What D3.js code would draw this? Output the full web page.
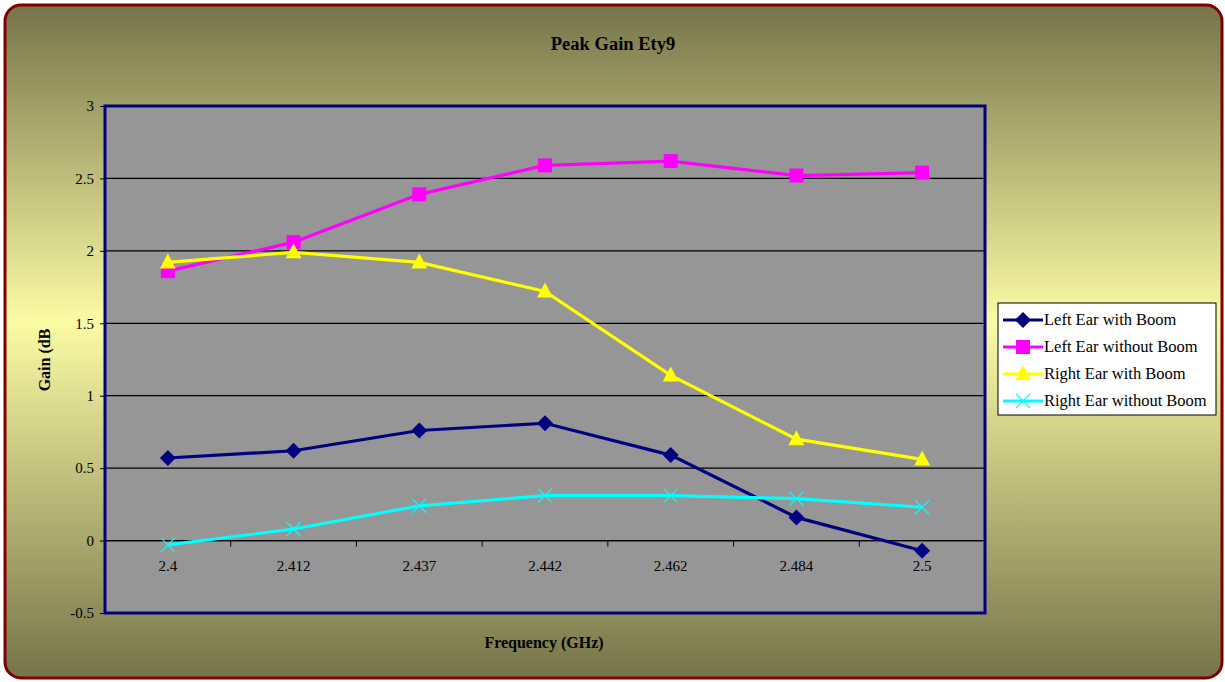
<!DOCTYPE html>
<html>
<head>
<meta charset="utf-8">
<script src="https://cdnjs.cloudflare.com/ajax/libs/d3/7.8.5/d3.min.js"></script>
<style>
  body { margin: 0; background: #fff; }
  text { font-family: "Liberation Serif", "Times New Roman", serif; }
</style>
</head>
<body>
<div id="chart"></div>
<script>
const svgWidth = 1225
const svgHeight = 682

// chart data
const frequencies = ["2.4", "2.412", "2.437", "2.442", "2.462", "2.484", "2.5"]
const leftWithBoom = [0.57, 0.62, 0.76, 0.81, 0.59, 0.16, -0.07]
const leftWithoutBoom = [1.86, 2.06, 2.39, 2.59, 2.62, 2.52, 2.54]
const rightWithBoom = [1.92, 1.99, 1.92, 1.72, 1.14, 0.70, 0.56]
const rightWithoutBoom = [-0.03, 0.08, 0.24, 0.31, 0.31, 0.29, 0.23]
const yTicks = [-0.5, 0, 0.5, 1, 1.5, 2, 2.5, 3]
const seriesNames = ["Left Ear with Boom", "Left Ear without Boom", "Right Ear with Boom", "Right Ear without Boom"]

const series = [
  { name: seriesNames[0], values: leftWithBoom, color: "#000080", marker: "diamond" },
  { name: seriesNames[1], values: leftWithoutBoom, color: "#ff00ff", marker: "square" },
  { name: seriesNames[2], values: rightWithBoom, color: "#ffff00", marker: "triangle" },
  { name: seriesNames[3], values: rightWithoutBoom, color: "#00ffff", marker: "cross" }
]

let plot = { left: 105, top: 106, right: 985, bottom: 613 }

let svg = d3
  .select("#chart")
  .append("svg")
  .attr("width", svgWidth)
  .attr("height", svgHeight)

let defs = svg.append("defs")
let grad = defs.append("linearGradient")
  .attr("id", "bg")
  .attr("x1", 0).attr("y1", 0).attr("x2", 0).attr("y2", 1)
grad.append("stop").attr("offset", "0%").attr("stop-color", "#75744a")
grad.append("stop").attr("offset", "47%").attr("stop-color", "#fbfba4")
grad.append("stop").attr("offset", "100%").attr("stop-color", "#75744a")

// outer chart area
svg.append("rect")
  .attr("x", 5).attr("y", 5)
  .attr("width", 1217).attr("height", 673)
  .attr("rx", 16).attr("ry", 16)
  .attr("fill", "url(#bg)")
  .attr("stroke", "#800000")
  .attr("stroke-width", 3)

let x = d3.scaleBand()
  .domain(frequencies)
  .range([plot.left, plot.right])

let y = d3.scaleLinear()
  .domain([-0.5, 3])
  .range([plot.bottom, plot.top])

// plot area
svg.append("rect")
  .attr("x", plot.left).attr("y", plot.top)
  .attr("width", plot.right - plot.left)
  .attr("height", plot.bottom - plot.top)
  .attr("fill", "#969696")

// gridlines
svg.append("g")
  .selectAll("line")
  .data(yTicks.filter(d => d > -0.5 && d < 3))
  .enter()
  .append("line")
  .attr("x1", plot.left).attr("x2", plot.right)
  .attr("y1", d => y(d)).attr("y2", d => y(d))
  .attr("stroke", "#000")
  .attr("stroke-width", 1.3)

// y axis
let leftAxis = d3.axisLeft(y).tickValues(yTicks).tickSize(5).tickPadding(6).tickFormat(d => String(d))
let yAxis = svg.append("g")
  .attr("transform", `translate(${plot.left}, 0)`)
  .call(leftAxis)
yAxis.select(".domain").remove()
yAxis.selectAll("line").attr("stroke", "#000")
yAxis.selectAll("text")
  .attr("font-size", "15px")
  .attr("fill", "#000")
  .style("font-family", "Liberation Serif")

// x axis sits at zero, ticks between categories
let xAxisG = svg.append("g").attr("transform", `translate(0, ${y(0)})`)
xAxisG.append("line")
  .attr("x1", plot.left).attr("x2", plot.right)
  .attr("stroke", "#000").attr("stroke-width", 1.3)
xAxisG.selectAll(".tk")
  .data(frequencies.slice(1))
  .enter()
  .append("line")
  .attr("x1", d => x(d)).attr("x2", d => x(d))
  .attr("y1", 0).attr("y2", 6)
  .attr("stroke", "#000")
xAxisG.selectAll(".lbl")
  .data(frequencies)
  .enter()
  .append("text")
  .attr("x", d => x(d) + x.bandwidth() / 2)
  .attr("y", 30)
  .attr("text-anchor", "middle")
  .attr("font-size", "15px")
  .text(d => d)

// lines
let line = d3.line()
  .x((d, i) => x(frequencies[i]) + x.bandwidth() / 2)
  .y(d => y(d))

function drawMarker(g, type, color, cx, cy) {
  if (type === "diamond") {
    g.append("path")
      .attr("d", `M${cx},${cy - 8}L${cx + 8},${cy}L${cx},${cy + 8}L${cx - 8},${cy}Z`)
      .attr("fill", color)
  } else if (type === "square") {
    g.append("rect")
      .attr("x", cx - 7).attr("y", cy - 7)
      .attr("width", 14).attr("height", 14)
      .attr("fill", color)
  } else if (type === "triangle") {
    g.append("path")
      .attr("d", `M${cx},${cy - 9}L${cx + 8},${cy + 6}L${cx - 8},${cy + 6}Z`)
      .attr("fill", color)
  } else {
    g.append("path")
      .attr("d", `M${cx - 7},${cy - 7}L${cx + 7},${cy + 7}M${cx - 7},${cy + 7}L${cx + 7},${cy - 7}`)
      .attr("stroke", color)
      .attr("stroke-width", 1.2)
  }
}

series.forEach(s => {
  let g = svg.append("g")
  g.append("path")
    .datum(s.values)
    .attr("d", line)
    .attr("fill", "none")
    .attr("stroke", s.color)
    .attr("stroke-width", 3.2)
  s.values.forEach((v, i) => {
    drawMarker(g, s.marker, s.color, x(frequencies[i]) + x.bandwidth() / 2, y(v))
  })
})

// plot border
svg.append("rect")
  .attr("x", plot.left).attr("y", plot.top)
  .attr("width", plot.right - plot.left)
  .attr("height", plot.bottom - plot.top)
  .attr("fill", "none")
  .attr("stroke", "#000080")
  .attr("stroke-width", 3)

// titles
svg.append("text")
  .attr("x", 613).attr("y", 50)
  .attr("text-anchor", "middle")
  .attr("font-size", "18.5px")
  .attr("font-weight", "bold")
  .text("Peak Gain Ety9")

svg.append("text")
  .attr("x", 544).attr("y", 648)
  .attr("text-anchor", "middle")
  .attr("font-size", "16px")
  .attr("font-weight", "bold")
  .text("Frequency (GHz)")

svg.append("text")
  .attr("transform", "translate(50, 360) rotate(-90)")
  .attr("text-anchor", "middle")
  .attr("font-size", "16px")
  .attr("font-weight", "bold")
  .text("Gain (dB")

// legend
let legend = svg.append("g").attr("transform", "translate(998, 303)")
legend.append("rect")
  .attr("width", 218).attr("height", 112)
  .attr("fill", "#fff")
  .attr("stroke", "#000")
  .attr("stroke-width", 1)
series.forEach((s, i) => {
  let ly = 17 + i * 27
  let row = legend.append("g")
  row.append("line")
    .attr("x1", 5).attr("x2", 45)
    .attr("y1", ly).attr("y2", ly)
    .attr("stroke", s.color)
    .attr("stroke-width", 3.2)
  drawMarker(row, s.marker, s.color, 25, ly)
  row.append("text")
    .attr("x", 46).attr("y", ly + 5)
    .attr("font-size", "16.5px")
    .text(s.name)
})
</script>
</body>
</html>
